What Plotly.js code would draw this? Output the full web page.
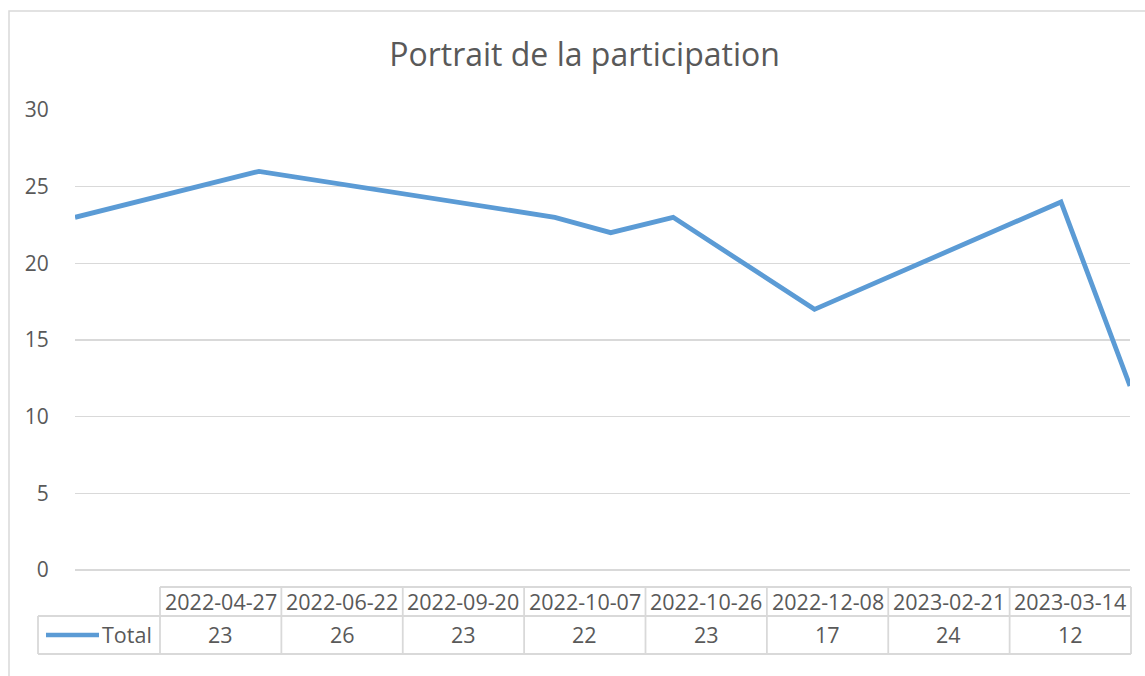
<!DOCTYPE html>
<html>
<head>
<meta charset="utf-8">
<script src="https://cdn.plot.ly/plotly-3.0.1.min.js"></script>
<style>html,body{margin:0;padding:0;background:#fff;}#chart{width:1145px;height:676px;}</style>
</head>
<body>
<div id="chart"></div>
<script>
// ---- data ----
const dates = ['2022-04-27','2022-06-22','2022-09-20','2022-10-07','2022-10-26','2022-12-08','2023-02-21','2023-03-14'];
const totals = [23, 26, 23, 22, 23, 17, 24, 12];
const seriesName = 'Total';
const yTicks = [0, 5, 10, 15, 20, 25, 30];
const chartTitle = 'Portrait de la participation';

// ---- layout constants (pixels) ----
const W = 1145, H = 676;
const L = 75, R = 15, T = 110, B = 106;
const FONT = 'Open Sans, sans-serif';
const TXT = '#595959';
const GRID = '#d9d9d9';
const BLUE = '#5b9bd5';
function px(x){ return (x - L) / (W - L - R); }
function py(y){ return (H - B - y) / (H - T - B); }

const tblLeft = 38, tblKeyRight = 160, tblRight = 1131;
const rowTop = 587, rowMid = 616, rowBot = 654;
const colW = (tblRight - tblKeyRight) / dates.length;

const shapes = [];
const annotations = [];
const line = {color: GRID, width: 1.8};
const cellFont = {family:FONT, size:21.5, color:TXT};
// outer chart border
shapes.push({type:'rect', xref:'paper', yref:'paper', x0:px(9), x1:px(1160), y0:py(11), y1:py(700), line:{color:GRID, width:1.5}, fillcolor:'rgba(0,0,0,0)'});
// table horizontal lines
shapes.push({type:'line', xref:'paper', yref:'paper', x0:px(tblKeyRight), x1:px(tblRight), y0:py(rowTop), y1:py(rowTop), line});
shapes.push({type:'line', xref:'paper', yref:'paper', x0:px(tblLeft), x1:px(tblRight), y0:py(rowMid), y1:py(rowMid), line});
shapes.push({type:'line', xref:'paper', yref:'paper', x0:px(tblLeft), x1:px(tblRight), y0:py(rowBot), y1:py(rowBot), line});
// table vertical lines
shapes.push({type:'line', xref:'paper', yref:'paper', x0:px(tblLeft), x1:px(tblLeft), y0:py(rowMid), y1:py(rowBot), line});
for (let i = 0; i <= dates.length; i++) {
  const x = tblKeyRight + i * colW;
  shapes.push({type:'line', xref:'paper', yref:'paper', x0:px(x), x1:px(x), y0:py(rowTop), y1:py(rowBot), line});
}
// legend key
shapes.push({type:'line', xref:'paper', yref:'paper', x0:px(46), x1:px(99), y0:py(635), y1:py(635), line:{color:BLUE, width:4.5}});
annotations.push({xref:'paper', yref:'paper', x:px(154), y:py(634), xanchor:'right', yanchor:'middle', showarrow:false, text:seriesName, font:cellFont});
// table cells
dates.forEach((d, i) => {
  const cx = px(tblKeyRight + (i + 0.5) * colW);
  annotations.push({xref:'paper', yref:'paper', x:cx, y:py(601), xanchor:'center', yanchor:'middle', showarrow:false, text:d, font:cellFont});
  annotations.push({xref:'paper', yref:'paper', x:cx, y:py(634), xanchor:'center', yanchor:'middle', showarrow:false, text:String(totals[i]), font:cellFont});
});

const trace = {
  x: dates, y: totals, type:'scatter', mode:'lines', name: seriesName,
  line: {color: BLUE, width: 4.8}, cliponaxis: false, hoverinfo:'x+y'
};

const layout = {
  width: W, height: H,
  margin: {l: L, r: R, t: T, b: B, pad: 0},
  paper_bgcolor: '#fff', plot_bgcolor: '#fff',
  showlegend: false,
  title: {text: chartTitle, xref:'container', yref:'container', x: 584.5 / W, y: 1 - 55 / H, xanchor:'center', yanchor:'middle', font:{family:FONT, size:32, color:TXT}},
  xaxis: {type:'date', range:[dates[0], dates[dates.length - 1]], showgrid:false, zeroline:false, showticklabels:false, ticks:'', showline:false, fixedrange:true},
  yaxis: {range:[0, 30], tickvals: yTicks, ticktext: yTicks.map(String), showgrid:true, gridcolor:GRID, gridwidth:1.6,
          zeroline:true, zerolinecolor:GRID, zerolinewidth:1.6, showline:false,
          ticks:'outside', ticklen:21, tickcolor:'rgba(0,0,0,0)', tickfont:{family:FONT, size:21, color:TXT}, fixedrange:true},
  shapes, annotations,
  font: {family: FONT, color: TXT}
};

Plotly.newPlot('chart', [trace], layout, {displayModeBar:false, staticPlot:true});
</script>
</body>
</html>
